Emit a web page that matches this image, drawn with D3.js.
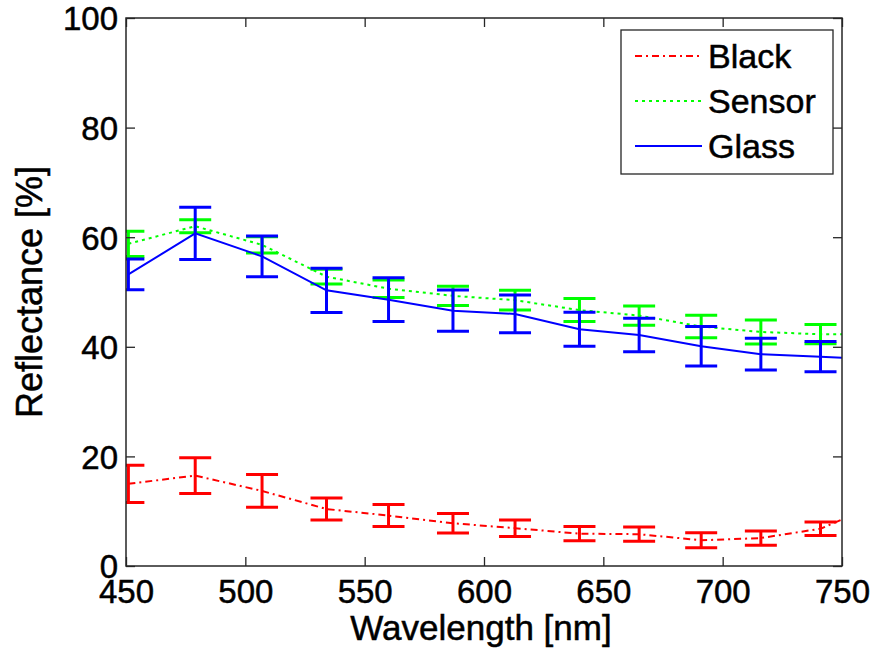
<!DOCTYPE html>
<html>
<head>
<meta charset="utf-8">
<script src="https://cdn.jsdelivr.net/npm/d3@7"></script>
<style>
  body { margin: 0; background: #fff; }
  text { font-family: "Liberation Sans", Arial, sans-serif; fill: #000; stroke: #000; stroke-width: 0.5px; }
</style>
</head>
<body>
<div id="chart"></div>
<script>
// wavelength of each error bar; the last point (750) only continues the lines
var wavelength = [451, 479, 507, 534, 560, 587, 613, 640, 665, 691, 716, 741, 750];

var blackMean = [15.0, 16.5, 13.7, 10.4, 9.2, 7.8, 6.9, 5.9, 5.8, 4.7, 5.1, 6.8, 8.5];
var blackErr  = [3.4, 3.25, 3.0, 2.0, 2.0, 1.8, 1.5, 1.3, 1.3, 1.35, 1.3, 1.25, null];

var sensorMean = [58.8, 62.0, 58.6, 52.8, 50.6, 49.3, 48.5, 46.7, 45.7, 43.7, 42.7, 42.3, 42.3];
var sensorErr  = [2.3, 1.2, 1.5, 1.35, 1.6, 1.75, 1.8, 2.1, 1.75, 2.05, 2.2, 1.75, null];

var glassMean = [53.2, 60.7, 56.5, 50.3, 48.6, 46.6, 46.0, 43.2, 42.15, 40.1, 38.65, 38.2, 38.0];
var glassErr  = [2.8, 4.75, 3.7, 4.05, 4.0, 3.75, 3.45, 3.1, 3.05, 3.6, 2.9, 2.75, null];

var xTicks = [450, 500, 550, 600, 650, 700, 750];
var yTicks = [0, 20, 40, 60, 80, 100];

var W = 876, H = 651;
var pLeft = 126, pRight = 842, pTop = 18, pBottom = 566;

var series = [
  {name: "Black",  mean: blackMean,  err: blackErr,  color: "#ff0000", dash: "7,4,2,4"},
  {name: "Sensor", mean: sensorMean, err: sensorErr, color: "#00ff00", dash: "3,4"},
  {name: "Glass",  mean: glassMean,  err: glassErr,  color: "#0000ff", dash: null}
];

var x = d3.scaleLinear().domain([450, 750]).range([pLeft, pRight]);
var y = d3.scaleLinear().domain([0, 100]).range([pBottom, pTop]);

var svg = d3.select("#chart").append("svg")
    .attr("width", W)
    .attr("height", H);

svg.append("rect").attr("width", W).attr("height", H).attr("fill", "#fff");

svg.append("clipPath").attr("id", "plotclip")
  .append("rect")
    .attr("x", pLeft).attr("y", pTop)
    .attr("width", pRight - pLeft).attr("height", pBottom - pTop);

var plot = svg.append("g").attr("clip-path", "url(#plotclip)");

var line = d3.line()
    .x(function(d) { return x(d.w); })
    .y(function(d) { return y(d.m); });

series.forEach(function(s) {
  var pts = wavelength.map(function(w, i) { return {w: w, m: s.mean[i], e: s.err[i]}; });

  // error bars
  var bars = plot.append("g")
      .attr("stroke", s.color)
      .attr("stroke-width", 3)
      .attr("fill", "none");
  pts.filter(function(d) { return d.e != null; }).forEach(function(d) {
    var cx = x(d.w), y1 = y(d.m + d.e), y0 = y(d.m - d.e);
    bars.append("line").attr("x1", cx).attr("x2", cx).attr("y1", y1).attr("y2", y0);
    bars.append("line").attr("x1", cx - 16).attr("x2", cx + 16).attr("y1", y1).attr("y2", y1);
    bars.append("line").attr("x1", cx - 16).attr("x2", cx + 16).attr("y1", y0).attr("y2", y0);
  });

  plot.append("path")
      .datum(pts)
      .attr("d", line)
      .attr("fill", "none")
      .attr("stroke", s.color)
      .attr("stroke-width", 2)
      .attr("stroke-dasharray", s.dash);
});

// axes, ticks pointing inward on all four sides
var axisStyle = function(g) {
  g.select(".domain").remove();
  g.selectAll(".tick line").attr("stroke", "#262626").attr("stroke-width", 1.3);
};

svg.append("g")
    .attr("transform", "translate(0," + pBottom + ")")
    .call(d3.axisBottom(x).tickValues(xTicks).tickSize(-9).tickSizeOuter(0))
    .call(axisStyle)
    .call(function(g) {
      g.selectAll(".tick text")
        .attr("y", 37).attr("dy", null)
        .style("font-size", "33px")
        .style("font-family", "Liberation Sans, Arial, sans-serif");
    });

svg.append("g")
    .attr("transform", "translate(0," + pTop + ")")
    .call(d3.axisTop(x).tickValues(xTicks).tickSize(-9).tickFormat(""))
    .call(axisStyle);

svg.append("g")
    .attr("transform", "translate(" + pLeft + ",0)")
    .call(d3.axisLeft(y).tickValues(yTicks).tickSize(-9))
    .call(axisStyle)
    .call(function(g) {
      g.selectAll(".tick text")
        .attr("x", -8).attr("dy", "0.36em")
        .style("font-size", "33px")
        .style("font-family", "Liberation Sans, Arial, sans-serif");
    });

svg.append("g")
    .attr("transform", "translate(" + pRight + ",0)")
    .call(d3.axisRight(y).tickValues(yTicks).tickSize(-9).tickFormat(""))
    .call(axisStyle);

svg.append("rect")
    .attr("x", pLeft).attr("y", pTop)
    .attr("width", pRight - pLeft).attr("height", pBottom - pTop)
    .attr("fill", "none")
    .attr("stroke", "#262626")
    .attr("stroke-width", 1.5);

// axis labels
svg.append("text")
    .attr("x", (pLeft + pRight) / 2 - 3)
    .attr("y", 640)
    .attr("text-anchor", "middle")
    .style("font-size", "35px")
    .text("Wavelength [nm]");

svg.append("text")
    .attr("transform", "translate(42," + (pTop + pBottom) / 2 + ") rotate(-90)")
    .attr("text-anchor", "middle")
    .style("font-size", "36px")
    .text("Reflectance [%]");

// legend
var legend = svg.append("g");
legend.append("rect")
    .attr("x", 621).attr("y", 30)
    .attr("width", 212).attr("height", 144)
    .attr("fill", "#fff")
    .attr("stroke", "#262626")
    .attr("stroke-width", 1.3);

series.forEach(function(s, i) {
  var cy = 56 + i * 45;
  legend.append("line")
      .attr("x1", 635).attr("x2", 702)
      .attr("y1", cy).attr("y2", cy)
      .attr("stroke", s.color)
      .attr("stroke-width", 2)
      .attr("stroke-dasharray", s.dash);
  legend.append("text")
      .attr("x", 708)
      .attr("y", cy + 12)
      .style("font-size", "34px")
      .text(s.name);
});
</script>
</body>
</html>
